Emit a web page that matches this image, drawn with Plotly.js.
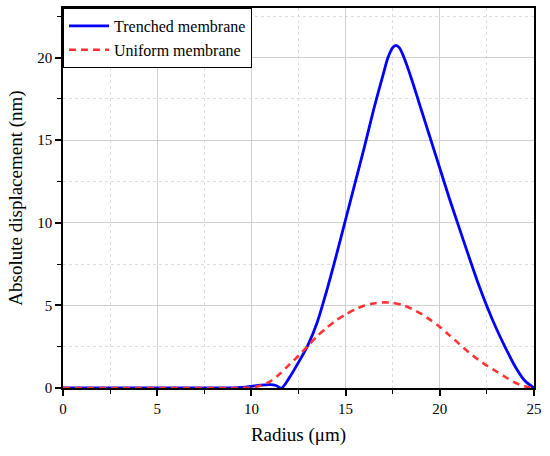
<!DOCTYPE html>
<html>
<head>
<meta charset="utf-8">
<script src="https://cdn.plot.ly/plotly-3.0.1.min.js"></script>
<style>
html,body{margin:0;padding:0;background:#fff;}
.modebar-container,.modebar{display:none !important;}
</style>
</head>
<body>
<div id="chart" style="width:550px;height:456px"></div>
<script>
// Trenched membrane (blue, solid)
var trenchedX = [0, 1, 2, 3, 4, 5, 6, 7, 8, 9, 9.5, 10, 10.5, 11, 11.3, 11.6, 12, 12.5, 13, 13.5, 14, 14.5, 15, 15.5, 16, 16.5, 17, 17.25, 17.5, 17.67, 17.85, 18.1, 18.5, 19, 19.5, 20, 20.5, 21, 21.5, 22, 22.5, 23, 23.5, 24, 24.5, 25];
var trenchedY = [0, 0, 0, 0, 0, 0, 0, 0, 0, 0.01, 0.04, 0.1, 0.17, 0.2, 0.15, 0.0, 0.6, 1.55, 2.6, 4.0, 5.9, 8.0, 10.2, 12.4, 14.6, 16.9, 19.0, 20.0, 20.6, 20.74, 20.6, 20.0, 18.7, 16.9, 15.1, 13.3, 11.5, 9.8, 8.1, 6.45, 4.95, 3.6, 2.4, 1.3, 0.45, 0];
// Uniform membrane (red, dashed)
var uniformX = [0, 1, 2, 3, 4, 5, 6, 7, 8, 9, 10, 10.5, 11, 11.5, 12, 12.5, 13, 13.5, 14, 14.5, 15, 15.5, 16, 16.5, 17, 17.5, 18, 18.5, 19, 19.5, 20, 20.5, 21, 21.5, 22, 22.5, 23, 23.5, 24, 24.5, 25];
var uniformY = [0, 0, 0, 0, 0, 0, 0, 0, 0, 0, 0.03, 0.15, 0.4, 0.85, 1.4, 1.95, 2.55, 3.15, 3.65, 4.1, 4.45, 4.75, 5.0, 5.12, 5.18, 5.15, 5.03, 4.8, 4.5, 4.12, 3.7, 3.2, 2.7, 2.2, 1.75, 1.35, 1.0, 0.65, 0.32, 0.1, 0];

var xTicks = [0, 5, 10, 15, 20, 25];
var yTicks = [0, 5, 10, 15, 20];

var serif = 'Liberation Serif';

var traces = [
  {x: trenchedX, y: trenchedY, name: 'Trenched membrane', type: 'scatter', mode: 'lines',
   line: {color: '#0000ff', width: 2.8, shape: 'spline', smoothing: 0.8}},
  {x: uniformX, y: uniformY, name: 'Uniform membrane', type: 'scatter', mode: 'lines',
   line: {color: '#ff3333', width: 2.6, dash: '7px,5px', shape: 'spline', smoothing: 0.8}}
];

var layout = {
  width: 550, height: 456,
  margin: {l: 63, r: 16, t: 8, b: 68},
  paper_bgcolor: '#fff', plot_bgcolor: '#fff',
  font: {family: serif, size: 15},
  showlegend: true,
  legend: {x: 0, y: 1, xanchor: 'left', yanchor: 'top', bgcolor: '#fff',
           bordercolor: '#000', borderwidth: 1, font: {family: serif, size: 16, color: '#000'},
           itemwidth: 40, tracegroupgap: 0},
  xaxis: {
    range: [0, 25], tickvals: xTicks, ticktext: xTicks.map(String),
    showline: true, linecolor: '#000', linewidth: 1.5, mirror: true,
    ticks: 'outside', ticklen: 6, tickwidth: 1.5, tickcolor: '#000',
    showgrid: true, gridcolor: '#cfcfcf', gridwidth: 1, zeroline: false,
    minor: {dtick: 2.5, tick0: 0, ticks: 'outside', ticklen: 4, tickwidth: 1.2, tickcolor: '#000',
            showgrid: true, gridcolor: '#dddddd', gridwidth: 1, griddash: 'dot'},
    tickfont: {family: serif, size: 15, color: '#000'},
    title: {text: 'Radius (μm)', font: {family: serif, size: 19, color: '#000'}, standoff: 12}
  },
  yaxis: {
    range: [0, 23], tickvals: yTicks, ticktext: yTicks.map(String),
    showline: true, linecolor: '#000', linewidth: 1.5, mirror: true,
    ticks: 'outside', ticklen: 6, tickwidth: 1.5, tickcolor: '#000',
    showgrid: true, gridcolor: '#cfcfcf', gridwidth: 1, zeroline: false,
    minor: {dtick: 2.5, tick0: 0, ticks: 'outside', ticklen: 4, tickwidth: 1.2, tickcolor: '#000',
            showgrid: true, gridcolor: '#dddddd', gridwidth: 1, griddash: 'dot'},
    tickfont: {family: serif, size: 15, color: '#000'},
    title: {text: 'Absolute displacement (nm)', font: {family: serif, size: 19, color: '#000'}, standoff: 10}
  }
};
Plotly.newPlot('chart', traces, layout).then(function (gd) {
  return Plotly.relayout(gd, {
    'font.family': serif,
    'legend.font.family': serif,
    'xaxis.tickfont.family': serif,
    'yaxis.tickfont.family': serif,
    'xaxis.title.font.family': serif,
    'yaxis.title.font.family': serif
  });
});
</script>
</body>
</html>
